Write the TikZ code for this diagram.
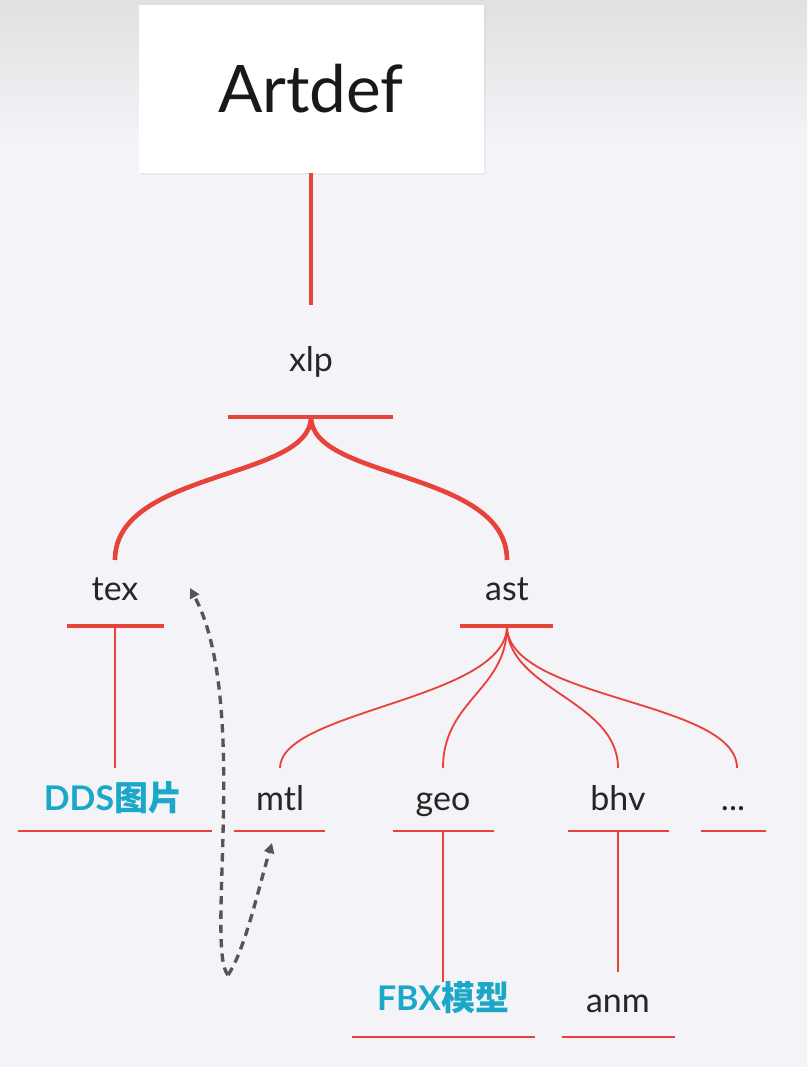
\documentclass[tikz,border=0pt]{standalone}
\usepackage{fontspec}
\setmainfont{Lato}
\newfontfamily\cjk{Noto Sans CJK SC}
\usetikzlibrary{arrows.meta,positioning,shadows}
\definecolor{bgray}{HTML}{F3F3F8}
\definecolor{tred}{HTML}{E8433A}
\definecolor{tcyan}{HTML}{1BA8C8}
\definecolor{dgray}{HTML}{555555}
\begin{document}
\begin{tikzpicture}
      [x=0.03cm, y=-0.03cm,
      label text/.style={font=\fontsize{29}{34}\selectfont, text=black!85, inner sep=0pt, text height=0.7em, text depth=0.2em},
      cn text/.style={font=\fontsize{29}{34}\selectfont\bfseries, text=tcyan, inner sep=0pt, text height=0.7em, text depth=0.2em},
      thick bar/.style={draw=tred, line width=1.4mm},
      thin bar/.style={draw=tred, line width=0.7mm},
      thick edge/.style={draw=tred, line width=1.4mm},
      thin edge/.style={draw=tred, line width=0.55mm},
      link/.style={dgray, line width=1mm, dash pattern=on 2.5mm off 1.8mm, -{Triangle[length=3mm,width=3mm]}}
      ]
      \fill[bgray] (0,0) rectangle (807,1067);
      \shade[top color=black!12, bottom color=bgray] (0,0) rectangle (807,140);
      \useasboundingbox (0,0) rectangle (807,1067);

      % root box
      \node[fill=white, minimum width=345*0.03cm, minimum height=167*0.03cm,
            drop shadow={opacity=0.08}, font=\fontsize{56}{64}\selectfont, text=black!90]
            (artdef) at (311,89) {Artdef};
      \coordinate (root) at (311,305);
      \draw[thick edge] (artdef.south) -- (root);

      % level 1
      \node[label text] (xlp) at (311,369) {xlp};
      \coordinate (xlpL) at (228,417); \coordinate (xlpR) at (393,417);
      \draw[thick bar] (xlpL) -- (xlpR);
      \coordinate (xlpB) at (311,417);

      % level 2
      \node[label text] (tex) at (115,598) {tex};
      \node[label text] (ast) at (507,598) {ast};
      \draw[thick edge] (xlpB) .. controls (311,480) and (115,470) .. (115,560);
      \draw[thick edge] (xlpB) .. controls (311,480) and (507,470) .. (507,560);
      \coordinate (texL) at (67,626);  \coordinate (texR) at (164,626);
      \coordinate (astL) at (460,626); \coordinate (astR) at (553,626);
      \draw[thick bar] (texL) -- (texR);
      \draw[thick bar] (astL) -- (astR);
      \coordinate (texB) at (115,626); \coordinate (astB) at (507,626);

      % level 3
      \node[cn text] (dds) at (113,808) {DDS{\cjk 图片}};
      \node[label text] (mtl) at (280,808) {mtl};
      \node[label text] (geo) at (443,808) {geo};
      \node[label text] (bhv) at (618,808) {bhv};
      \node[label text] (more) at (733,808) {...};
      \draw[thin edge] (texB) -- (115,768);
      \draw[thin edge] (astB) .. controls (507,700) and (280,710) .. (280,768);
      \draw[thin edge] (astB) .. controls (507,690) and (443,700) .. (443,768);
      \draw[thin edge] (astB) .. controls (507,690) and (618,700) .. (618,768);
      \draw[thin edge] (astB) .. controls (507,700) and (737,700) .. (737,768);
      \draw[thin bar] (18,831) -- (212,831);
      \draw[thin bar] (234,831) -- (325,831);
      \draw[thin bar] (393,831) -- (494,831);
      \draw[thin bar] (568,831) -- (669,831);
      \draw[thin bar] (701,831) -- (766,831);

      % level 4
      \node[cn text] (fbx) at (443,1008) {FBX{\cjk 模型}};
      \node[label text] (anm) at (618,1010) {anm};
      \draw[thin edge] (443,831) -- (443,982);
      \draw[thin edge] (618,831) -- (618,972);
      \draw[thin bar] (352,1037) -- (535,1037);
      \draw[thin bar] (562,1037) -- (675,1037);

      % dashed link
      \coordinate (turn) at (228,975);
      \draw[link] (turn) .. controls (205,950) and (250,700) .. (190,588);
      \draw[link] (turn) .. controls (245,950) and (258,890) .. (272,843);
\end{tikzpicture}
\end{document}
